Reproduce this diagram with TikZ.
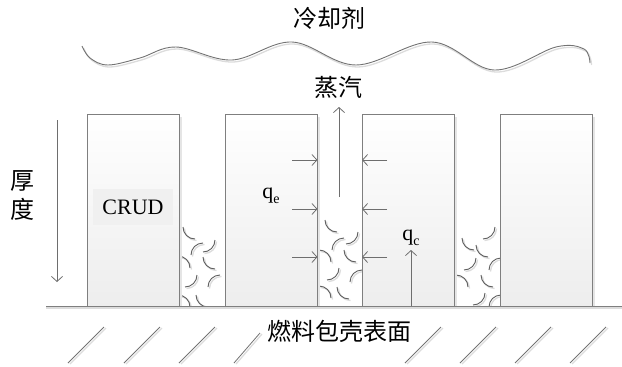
\documentclass[tikz,border=0pt]{standalone}
\usepackage{fontspec}
\setmainfont{Liberation Serif}
\newfontfamily\cjk{Noto Sans CJK SC}
\usetikzlibrary{arrows.meta,shadows}

\definecolor{linegray}{HTML}{7F7F7F}
\definecolor{arrowgray}{HTML}{6E6E6E}
\definecolor{bubblegray}{HTML}{5E5E5E}
\definecolor{softgray}{HTML}{DCDCDC}

\newcommand{\lowsub}[1]{\raisebox{-5pt}{\fontsize{14}{14}\selectfont #1}}

\begin{document}
\begin{tikzpicture}[x=1pt,y=-1pt,
    crud/.style={draw=linegray,line width=0.9pt,top color=white,bottom color=black!7,
      minimum width=92pt,minimum height=192pt,inner sep=0pt,
      drop shadow={shadow xshift=2.5pt,shadow yshift=-2.5pt,fill=black!10,opacity=1}},
    flux/.style={draw=arrowgray,line width=0.8pt,-{Straight Barb[length=5pt,width=11pt]}},
    bubble/.style={draw=bubblegray,line width=0.9pt},
    soft/.style={draw=softgray,line width=1.3pt},
    cjklabel/.style={font=\cjk\fontsize{24}{24}\selectfont,inner sep=0pt},
    latin/.style={font=\fontsize{22}{22}\selectfont,inner sep=0pt}]
  \useasboundingbox (0,0) rectangle (622,367);

  % coolant surface
  \draw[soft,shift={(1.5,2)}] plot[smooth,tension=0.6] coordinates {(82,46) (90,58) (108,65) (140,58) (176,47) (232,60) (292,42) (356,65) (432,42) (494,70) (556,47) (584,49) (590,63)};
  \draw[draw=black!55,line width=0.9pt] plot[smooth,tension=0.6] coordinates {(82,46) (90,58) (108,65) (140,58) (176,47) (232,60) (292,42) (356,65) (432,42) (494,70) (556,47) (584,49) (590,63)};

  % bubbles in the channels
  \foreach \cx/\cy/\a in {195/227/180, 203/255/90, 203/240/270, 178/268/0, 215/257/180,
      185/275/270, 220/287/90, 178/307/0, 208/295/180,
      337/220/180, 344/250/90, 346/232/270, 319/262/0, 356/250/180,
      327/268/270, 362/282/90, 319/298/0, 349/287/180,
      483/227/270, 474/238/180, 488/245/180, 464/258/270, 501/270/90,
      456/287/0, 493/275/180, 473/293/270, 501/307/90} {
    \draw[soft] (\cx+1.5,\cy+1.5) ++(-\a:12) arc[start angle=-\a,end angle=-\a-90,radius=12];
    \draw[bubble] (\cx,\cy) ++(-\a:12) arc[start angle=-\a,end angle=-\a-90,radius=12];
  }

  % deposit columns
  \node[crud] (crud1) at (133,210) {};
  \node[crud] (crud2) at (271,210) {};
  \node[crud] (crud3) at (408.5,210) {};
  \node[crud] (crud4) at (546.5,210) {};
  \node[latin,fill=black!6,minimum width=80pt,minimum height=36pt] (crudtxt) at (133,207) {CRUD};

  % cladding surface
  \coordinate (g0) at (46,306);
  \coordinate (g1) at (622,306);
  \draw[soft] ([yshift=-2pt]g0) -- ([yshift=-2pt]g1);
  \draw[draw=linegray,line width=0.9pt] (g0) -- (g1);
  \foreach \x in {68,124,179,405,460,515,570} {
    \draw[soft] (\x+2,364) -- ++(36,-36);
    \draw[draw=black!55,line width=0.8pt] (\x,363) -- ++(36,-36);
  }
  \draw[soft] (236,364) -- (262,334);
  \draw[draw=black!55,line width=0.8pt] (234,363) -- (260,333);

  % labels
  \node[cjklabel] (coolant) at (329,18) {冷却剂};
  \node[cjklabel] (steam) at (338,87) {蒸汽};
  \node[cjklabel] (clad) at (339,331) {燃料包壳表面};
  \node[cjklabel] (hou) at (22,181) {厚};
  \node[cjklabel] (du) at (22,209) {度};
  \node[latin] (qe) at (271,196) {q\lowsub{e}};
  \node[latin] (qc) at (411,238) {q\lowsub{c}};

  % thickness, steam and heat flux arrows
  \coordinate (t0) at (57,120);
  \coordinate (t1) at (57,282);
  \draw[flux] (t0) -- (t1);
  \coordinate (s0) at (339,197);
  \coordinate (s1) at (339,107);
  \draw[flux] (s0) -- (s1);
  \coordinate (c0) at (411,306);
  \coordinate (c1) at (411,250);
  \draw[flux] (c0) -- (c1);
  \foreach \y [count=\i] in {160,209,257} {
    \coordinate (fl\i) at (292,\y);
    \coordinate (fr\i) at (387,\y);
    \draw[flux] (fl\i) -- (crud2.east |- fl\i);
    \draw[flux] (fr\i) -- (crud3.west |- fr\i);
  }
\end{tikzpicture}
\end{document}
